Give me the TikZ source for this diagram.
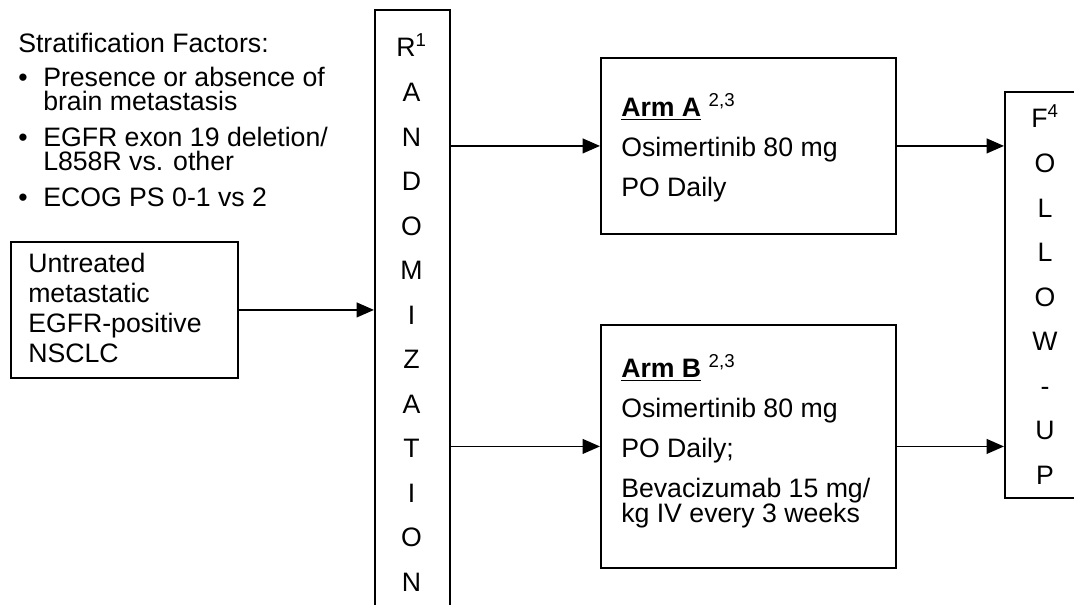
\documentclass[tikz,border=0pt]{standalone}
\usepackage{fontspec}
\setmainfont{Liberation Sans}
\usetikzlibrary{arrows.meta}
\tikzset{
  box/.style={draw, line width=1.4pt, rectangle, inner sep=0pt, anchor=north west},
  txt/.style={inner sep=0pt, anchor=north west, align=left},
  conn/.style={line width=1.4pt, -{Triangle[length=13pt,width=11pt]}},
}
\newcommand{\toprule}{\rule{0pt}{20pt}}
\begin{document}
\begin{tikzpicture}[x=0.75pt, y=-0.75pt]
  \useasboundingbox (0,0) rectangle (1074,604);
  \clip (0,0) rectangle (1074,604);

  %fatores
  \node[txt, font=\fontsize{20}{18}\selectfont] (strat) at (18,26)
    {\toprule Stratification Factors:\\[7.5pt]
     \makebox[18.75pt][l]{\textbullet}Presence or absence of\\
     \hspace*{18.75pt}brain metastasis\\[9pt]
     \makebox[18.75pt][l]{\textbullet}EGFR exon 19 deletion/\\
     \hspace*{18.75pt}L858R vs. other\\[9pt]
     \makebox[18.75pt][l]{\textbullet}ECOG PS 0-1 vs 2};

  %paciente
  \node[box, minimum width=170.25pt, minimum height=102pt] (untreated) at (10,241) {};
  \node[txt, font=\fontsize{20}{22.5}\selectfont] (untreatedtxt) at (28,246)
    {\toprule Untreated\\metastatic\\EGFR-positive\\NSCLC};

  %randomizacao
  \node[box, minimum width=56.25pt, minimum height=465pt] (rand) at (374,9) {};
  \node[txt, anchor=north, align=center, font=\fontsize{20}{33.4}\selectfont] (randtxt) at (411.5,30)
    {\toprule R\textsuperscript{1}\\A\\N\\D\\O\\M\\I\\Z\\A\\T\\I\\O\\N};

  %braco A
  \node[box, minimum width=221.25pt, minimum height=132pt] (armA) at (600,57) {};
  \node[txt, font=\fontsize{20}{30}\selectfont] (armAtxt) at (621,90)
    {\toprule\underline{\textbf{Arm A}} \textsuperscript{2,3}\\Osimertinib 80 mg\\PO Daily};

  %braco B
  \node[box, minimum width=221.25pt, minimum height=182.25pt] (armB) at (600,324) {};
  \node[txt, font=\fontsize{20}{30}\selectfont] (armBtxt) at (621,351)
    {\toprule\underline{\textbf{Arm B}} \textsuperscript{2,3}\\Osimertinib 80 mg\\PO Daily;\\
     Bevacizumab 15 mg/\\[-11.25pt]kg IV every 3 weeks};

  %seguimento
  \node[box, minimum width=61.5pt, minimum height=304.5pt] (follow) at (1004,91) {};
  \node[txt, anchor=north, align=center, font=\fontsize{20}{33.4}\selectfont] (followtxt) at (1045,101)
    {\toprule F\textsuperscript{4}\\O\\L\\L\\O\\W\\-\\U\\P};

  %setas
  \draw[conn] (untreated.east) -- (untreated.east -| rand.west);
  \draw[conn] (rand.east |- armA.west) -- (armA.west);
  \draw[conn] (rand.east |- armB.west) -- (armB.west);
  \draw[conn] (armA.east) -- (armA.east -| follow.west);
  \draw[conn] (armB.east) -- (armB.east -| follow.west);
\end{tikzpicture}
\end{document}
